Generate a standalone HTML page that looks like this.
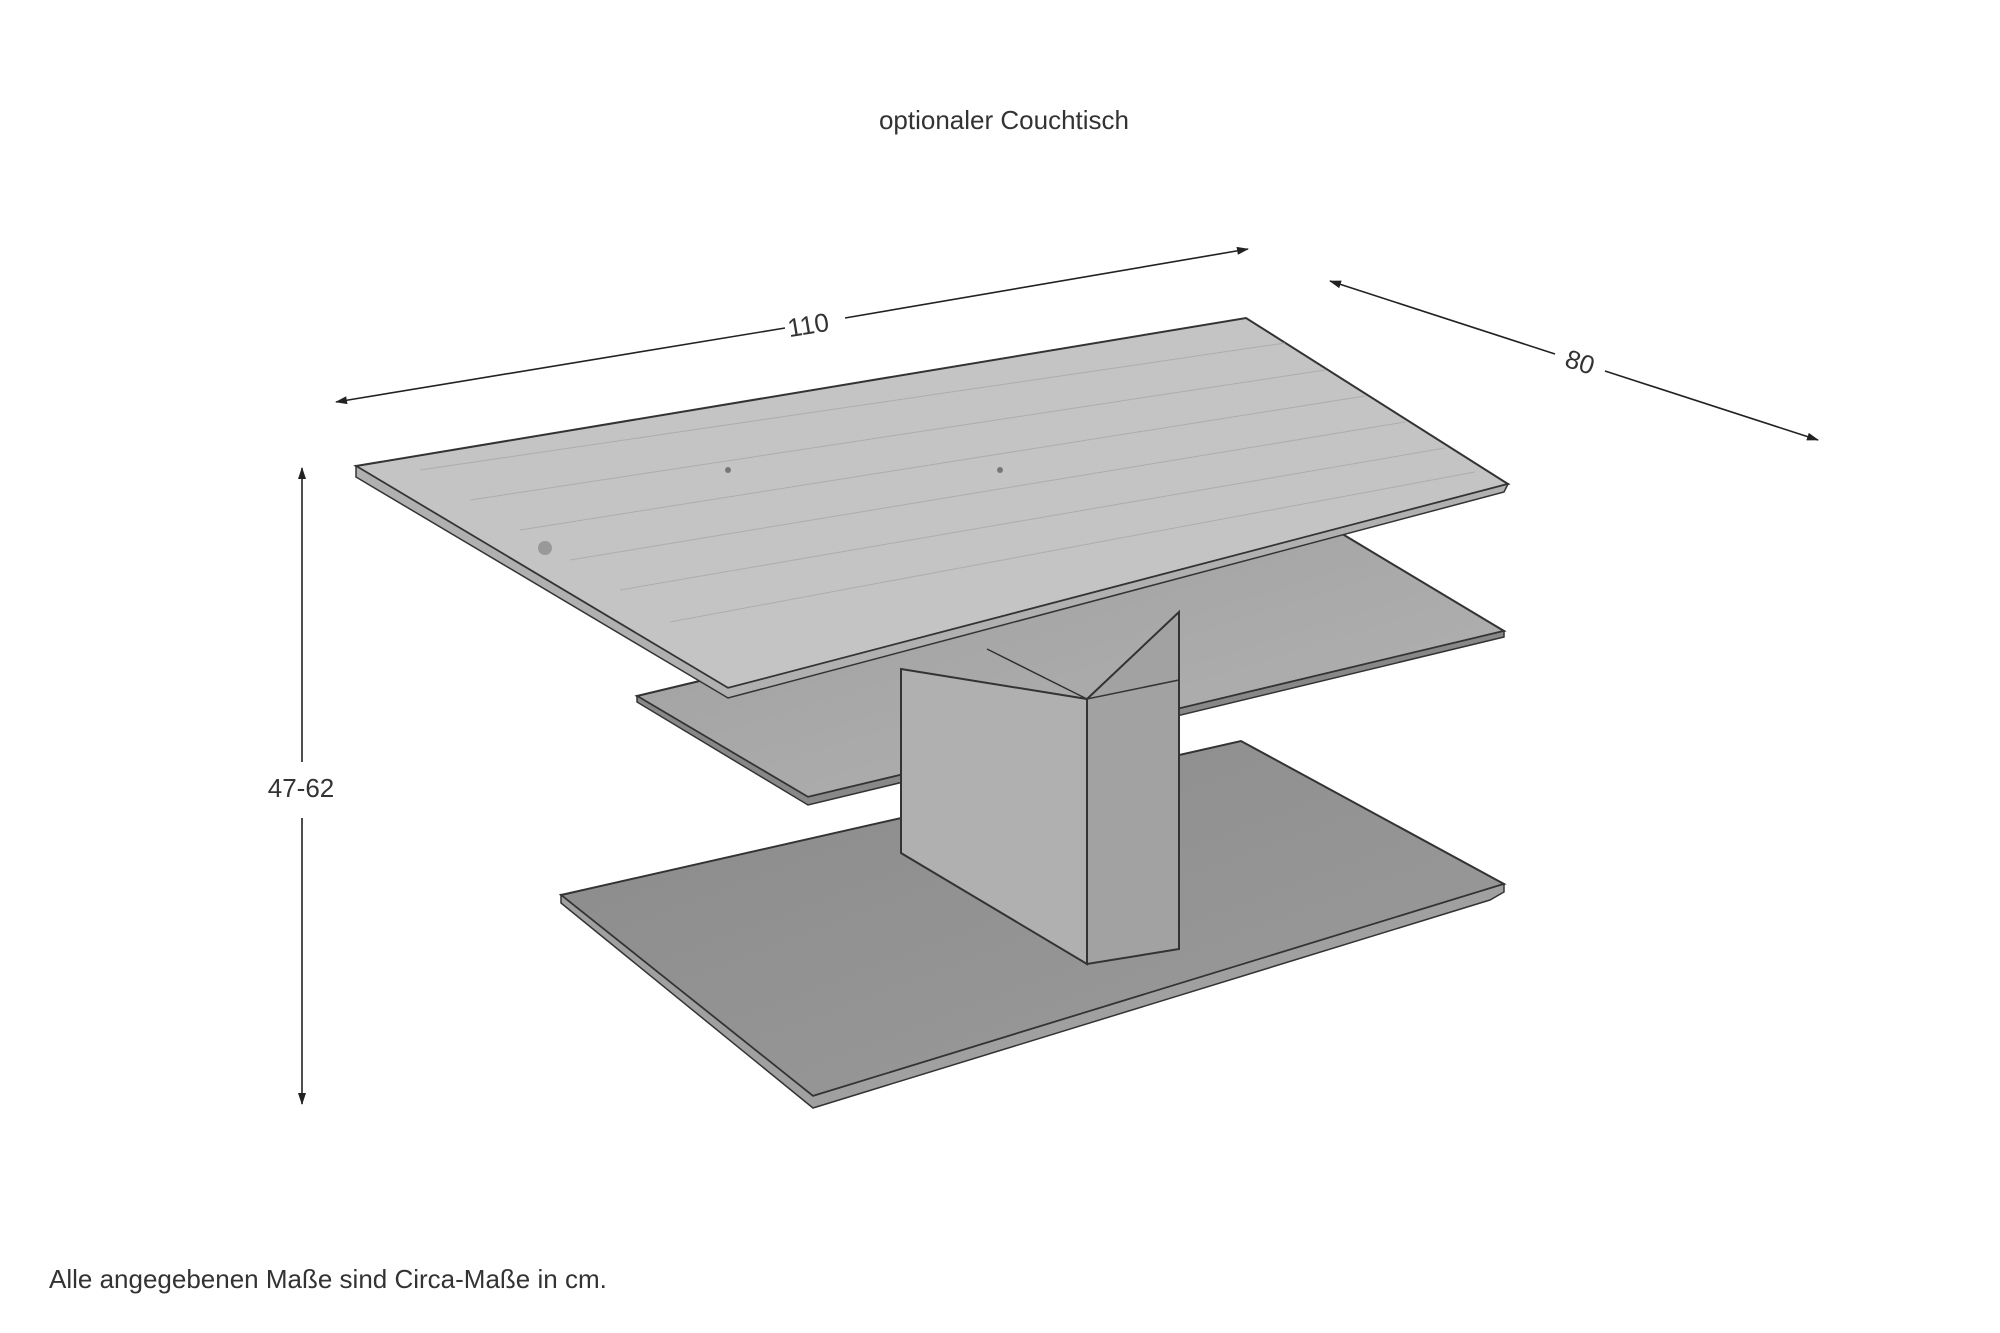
<!DOCTYPE html>
<html><head><meta charset="utf-8"><style>
html,body{margin:0;padding:0;background:#fff;}
svg{display:block}
text{font-family:"Liberation Sans",sans-serif;fill:#333}
</style></head><body>
<svg width="2000" height="1333" viewBox="0 0 2000 1333" xmlns="http://www.w3.org/2000/svg">
<defs>
<marker id="a" markerWidth="12" markerHeight="8" refX="11" refY="4" orient="auto" markerUnits="userSpaceOnUse">
<path d="M0,0 L12,4 L0,8 z" fill="#222"/></marker>
<linearGradient id="base" x1="0" y1="0" x2="1" y2="1"><stop offset="0" stop-color="#8a8a8a"/><stop offset="1" stop-color="#9c9c9c"/></linearGradient>
<linearGradient id="glass" x1="0" y1="0" x2="1" y2="1"><stop offset="0" stop-color="#9e9e9e"/><stop offset="1" stop-color="#b4b4b4"/></linearGradient>
</defs>
<text x="1004" y="129" font-size="26" text-anchor="middle">optionaler Couchtisch</text>
<!-- 110 -->
<line x1="785" y1="328" x2="336" y2="402" stroke="#222" stroke-width="1.6" marker-end="url(#a)"/>
<line x1="845" y1="318" x2="1248" y2="249" stroke="#222" stroke-width="1.6" marker-end="url(#a)"/>
<text x="808" y="334" font-size="26" text-anchor="middle" transform="rotate(-9.5 808 324)">110</text>
<!-- 80 -->
<line x1="1555" y1="354" x2="1330" y2="281" stroke="#222" stroke-width="1.6" marker-end="url(#a)"/>
<line x1="1605" y1="371" x2="1818" y2="440" stroke="#222" stroke-width="1.6" marker-end="url(#a)"/>
<text x="1580" y="371" font-size="26" text-anchor="middle" transform="rotate(18 1580 362)">80</text>
<!-- vertical -->
<line x1="302" y1="762" x2="302" y2="468" stroke="#222" stroke-width="1.6" marker-end="url(#a)"/>
<line x1="302" y1="818" x2="302" y2="1104" stroke="#222" stroke-width="1.6" marker-end="url(#a)"/>
<text x="301" y="797" font-size="26" text-anchor="middle">47-62</text>
<!-- base plate -->
<polygon points="561,895 1241,741 1504,884 813,1096" fill="url(#base)" stroke="#333" stroke-width="2"/>
<polygon points="561,895 813,1096 1504,884 1504,892 1490,900 813,1108 561,903" fill="#a0a0a0" stroke="#333" stroke-width="1.5"/>
<!-- glass shelf -->
<polygon points="637,696 1334,529 1504,631 808,797" fill="url(#glass)" stroke="#333" stroke-width="2"/>
<polygon points="637,696 808,797 1504,631 1504,637 808,805 637,702" fill="#888" stroke="#333" stroke-width="1.5"/>
<!-- column -->
<polygon points="1087,699 1179,612 1179,949 1087,964" fill="#a2a2a2" stroke="#333" stroke-width="2"/>
<polygon points="901,669 1087,699 1087,964 901,853" fill="#b0b0b0" stroke="#333" stroke-width="2"/>
<polyline points="987,649 1087,699 1179,680" fill="none" stroke="#333" stroke-width="1.5"/>
<!-- tabletop -->
<polygon points="356,466 1246,318 1508,484 728,688" fill="#c4c4c4" stroke="#333" stroke-width="2"/>
<polygon points="356,466 728,688 1508,484 1504,492 728,698 356,477" fill="#b0b0b0" stroke="#333" stroke-width="1.5"/>
<g stroke="#a8a8a8" stroke-width="1" fill="none" opacity="0.8">
<line x1="420" y1="470" x2="1285" y2="343"/>
<line x1="470" y1="500" x2="1325" y2="370"/>
<line x1="520" y1="530" x2="1365" y2="396"/>
<line x1="570" y1="560" x2="1405" y2="422"/>
<line x1="620" y1="590" x2="1445" y2="448"/>
<line x1="670" y1="622" x2="1475" y2="472"/>
</g>
<circle cx="545" cy="548" r="7" fill="#999"/>
<circle cx="728" cy="470" r="3" fill="#777"/>
<circle cx="1000" cy="470" r="3" fill="#777"/>
<text x="49" y="1288" font-size="26">Alle angegebenen Maße sind Circa-Maße in cm.</text>
</svg>
</body></html>
